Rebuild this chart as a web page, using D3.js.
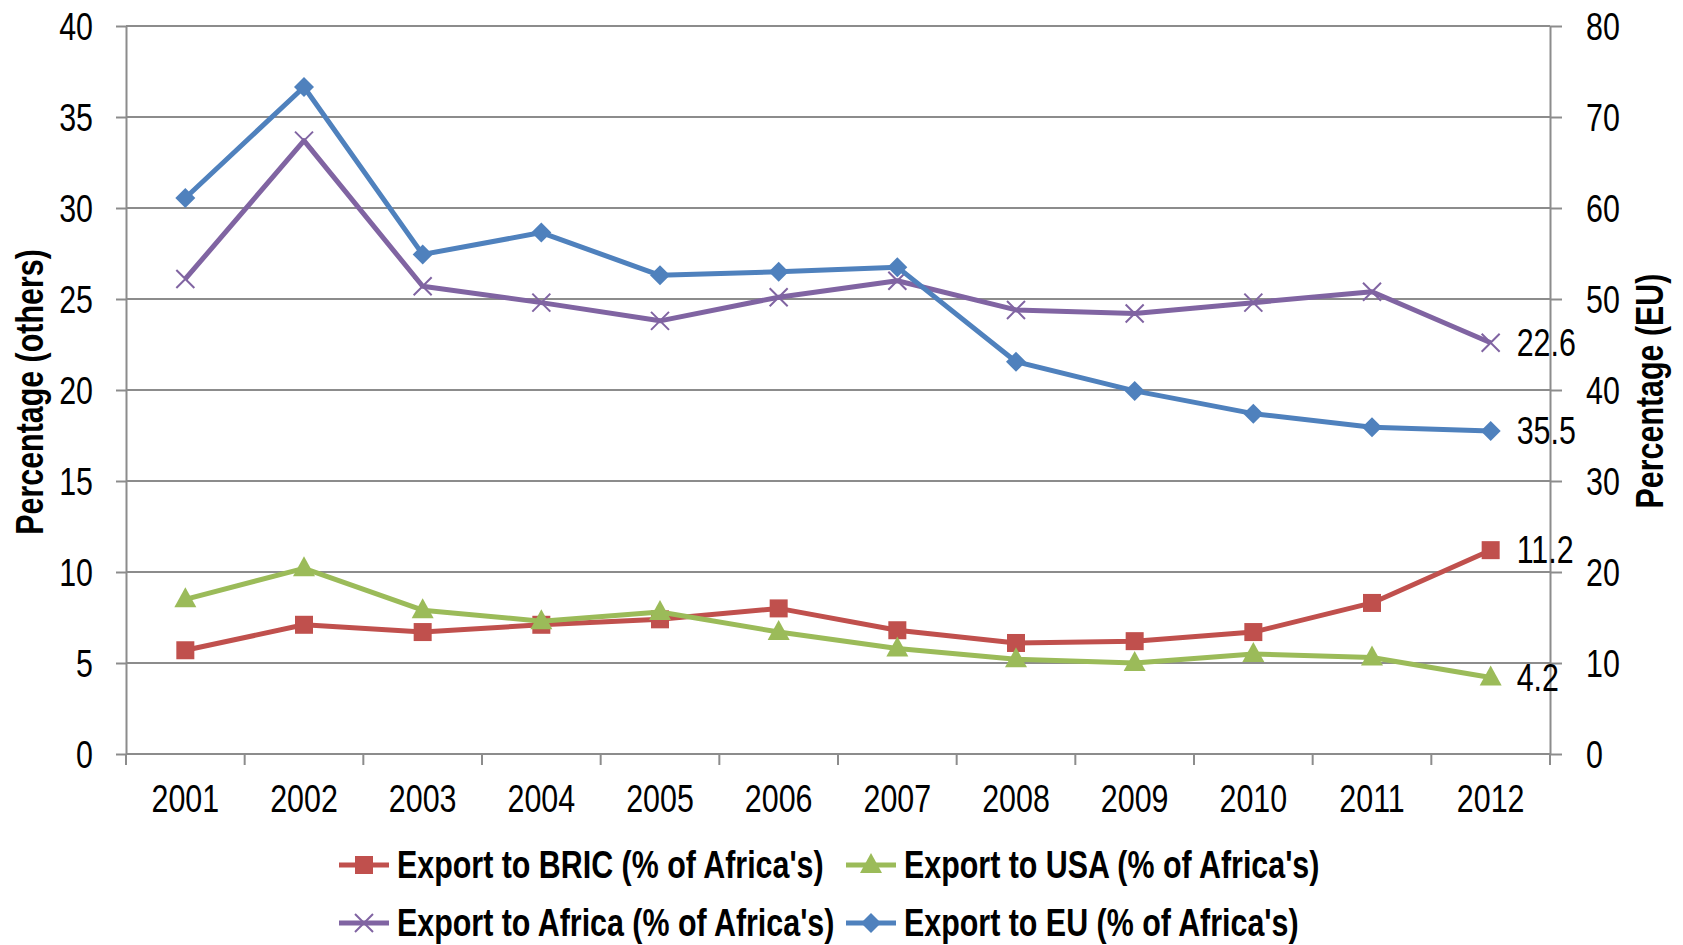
<!DOCTYPE html>
<html>
  <head>
    <script src="https://cdnjs.cloudflare.com/ajax/libs/d3/7.8.5/d3.min.js"></script>
    <style>
      body {
        margin: 0;
        background: #fff;
      }
      svg text {
        font-family: "Liberation Sans", Arial, sans-serif;
        fill: #000;
      }
      .grid line {
        stroke: #8c8c8c;
        stroke-width: 2px;
      }
      .axis path,
      .axis line {
        stroke: #8c8c8c;
        stroke-width: 2px;
      }
    </style>
  </head>
  <body>
    <svg id="chart" width="1683" height="945"></svg>
    <script>
      const years = ["2001", "2002", "2003", "2004", "2005", "2006", "2007", "2008", "2009", "2010", "2011", "2012"];
      const bric = [5.7, 7.1, 6.7, 7.1, 7.4, 8.0, 6.8, 6.1, 6.2, 6.7, 8.3, 11.2];
      const usa = [8.5, 10.2, 7.9, 7.3, 7.8, 6.7, 5.8, 5.2, 5.0, 5.5, 5.3, 4.2];
      const africa = [26.1, 33.7, 25.7, 24.8, 23.8, 25.1, 26.0, 24.4, 24.2, 24.8, 25.4, 22.6];
      const eu = [61.1, 73.3, 54.9, 57.3, 52.6, 53.0, 53.5, 43.1, 39.9, 37.4, 35.9, 35.5];
      const leftTicks = [0, 5, 10, 15, 20, 25, 30, 35, 40];
      const rightTicks = [0, 10, 20, 30, 40, 50, 60, 70, 80];

      const series = [
        { name: "Export to BRIC (% of Africa's)", values: bric, axis: "left", color: "#C0504D", marker: "square" },
        { name: "Export to USA (% of Africa's)", values: usa, axis: "left", color: "#9BBB59", marker: "triangle" },
        { name: "Export to Africa (% of Africa's)", values: africa, axis: "left", color: "#8064A2", marker: "x" },
        { name: "Export to EU (% of Africa's)", values: eu, axis: "right", color: "#4F81BD", marker: "diamond" },
      ];

      const svg = d3.select("#chart");
      const plotLeft = 126, plotRight = 1550, plotTop = 26, plotBottom = 754;
      const fs = "38px";

      const x = d3.scaleBand().domain(years).range([plotLeft, plotRight]).padding(0);
      const yL = d3.scaleLinear().domain([0, 40]).range([plotBottom, plotTop]);
      const yR = d3.scaleLinear().domain([0, 80]).range([plotBottom, plotTop]);

      // grid
      svg.append("g").attr("class", "grid")
        .selectAll("line").data(leftTicks.slice(1)).enter().append("line")
        .attr("x1", plotLeft).attr("x2", plotRight)
        .attr("y1", (d) => yL(d)).attr("y2", (d) => yL(d));

      // axes
      const axL = svg.append("g").attr("class", "axis")
        .attr("transform", `translate(${plotLeft},0)`)
        .call(d3.axisLeft(yL).tickValues(leftTicks).tickSize(10).tickPadding(23).tickSizeOuter(0));
      const axR = svg.append("g").attr("class", "axis")
        .attr("transform", `translate(${plotRight},0)`)
        .call(d3.axisRight(yR).tickValues(rightTicks).tickSize(12).tickPadding(24).tickSizeOuter(0));
      const xTickPos = years.map((d) => x(d)).concat([plotRight]);
      const axB = svg.append("g").attr("class", "axis");
      axB.append("line").attr("x1", plotLeft).attr("x2", plotRight).attr("y1", plotBottom).attr("y2", plotBottom);
      axB.selectAll("line.tk").data(xTickPos).enter().append("line").attr("class", "tk")
        .attr("x1", (d) => d).attr("x2", (d) => d).attr("y1", plotBottom).attr("y2", plotBottom + 11);
      axB.selectAll("text").data(years).enter().append("text")
        .attr("x", (d) => x(d) + x.bandwidth() / 2).attr("y", 812)
        .attr("text-anchor", "middle").style("font-size", fs).text((d) => d);

      [axL, axR].forEach((a) => a.selectAll("text").style("font-size", fs).attr("dy", "0.35em"));

      // axis titles
      svg.append("text").attr("transform", "translate(43,392) rotate(-90)")
        .attr("text-anchor", "middle").style("font-size", fs).style("font-weight", "bold")
        .text("Percentage (others)");
      svg.append("text").attr("transform", "translate(1663,391) rotate(-90)")
        .attr("text-anchor", "middle").style("font-size", fs).style("font-weight", "bold")
        .text("Percentage (EU)");

      function drawMarker(g, type, color) {
        if (type === "square") {
          g.append("rect").attr("x", -9).attr("y", -9).attr("width", 18).attr("height", 18).attr("fill", color);
        } else if (type === "triangle") {
          g.append("path").attr("d", "M0,-12L11,8L-11,8Z").attr("fill", color);
        } else if (type === "diamond") {
          g.append("path").attr("d", "M0,-10L10,0L0,10L-10,0Z").attr("fill", color);
        } else {
          g.append("path").attr("d", "M-9,-9L9,9M-9,9L9,-9").attr("stroke", color).attr("stroke-width", 2).attr("fill", "none");
        }
      }

      const cx = (i) => x(years[i]) + x.bandwidth() / 2;

      series.forEach((s) => {
        const y = s.axis === "left" ? yL : yR;
        const line = d3.line().x((d, i) => cx(i)).y((d) => y(d));
        svg.append("path").datum(s.values).attr("d", line)
          .attr("fill", "none").attr("stroke", s.color).attr("stroke-width", 5).attr("stroke-linejoin", "round");
        s.values.forEach((v, i) => {
          const g = svg.append("g").attr("transform", `translate(${cx(i)},${y(v)})`);
          drawMarker(g, s.marker, s.color);
        });
        const last = s.values.length - 1;
        svg.append("text").attr("x", cx(last) + 26).attr("y", y(s.values[last]))
          .attr("dy", "0.35em").style("font-size", fs).text(s.values[last]);
      });

      // legend
      const legendPos = [
        { x: 339, y: 865 },
        { x: 846, y: 865 },
        { x: 339, y: 923 },
        { x: 846, y: 923 },
      ];
      series.forEach((s, i) => {
        const p = legendPos[i];
        const g = svg.append("g").attr("transform", `translate(${p.x},${p.y})`);
        g.append("line").attr("x1", 0).attr("x2", 50).attr("stroke", s.color).attr("stroke-width", 5);
        const m = g.append("g").attr("transform", "translate(25,0)");
        drawMarker(m, s.marker, s.color);
        g.append("text").attr("x", 58).attr("dy", "0.35em")
          .style("font-size", fs).style("font-weight", "bold").text(s.name);
      });

      // narrow font look: squeeze every label horizontally
      svg.selectAll("text").each(function () {
        const w = this.getComputedTextLength();
        this.setAttribute("textLength", w * 0.8);
        this.setAttribute("lengthAdjust", "spacingAndGlyphs");
      });
    </script>
  </body>
</html>
